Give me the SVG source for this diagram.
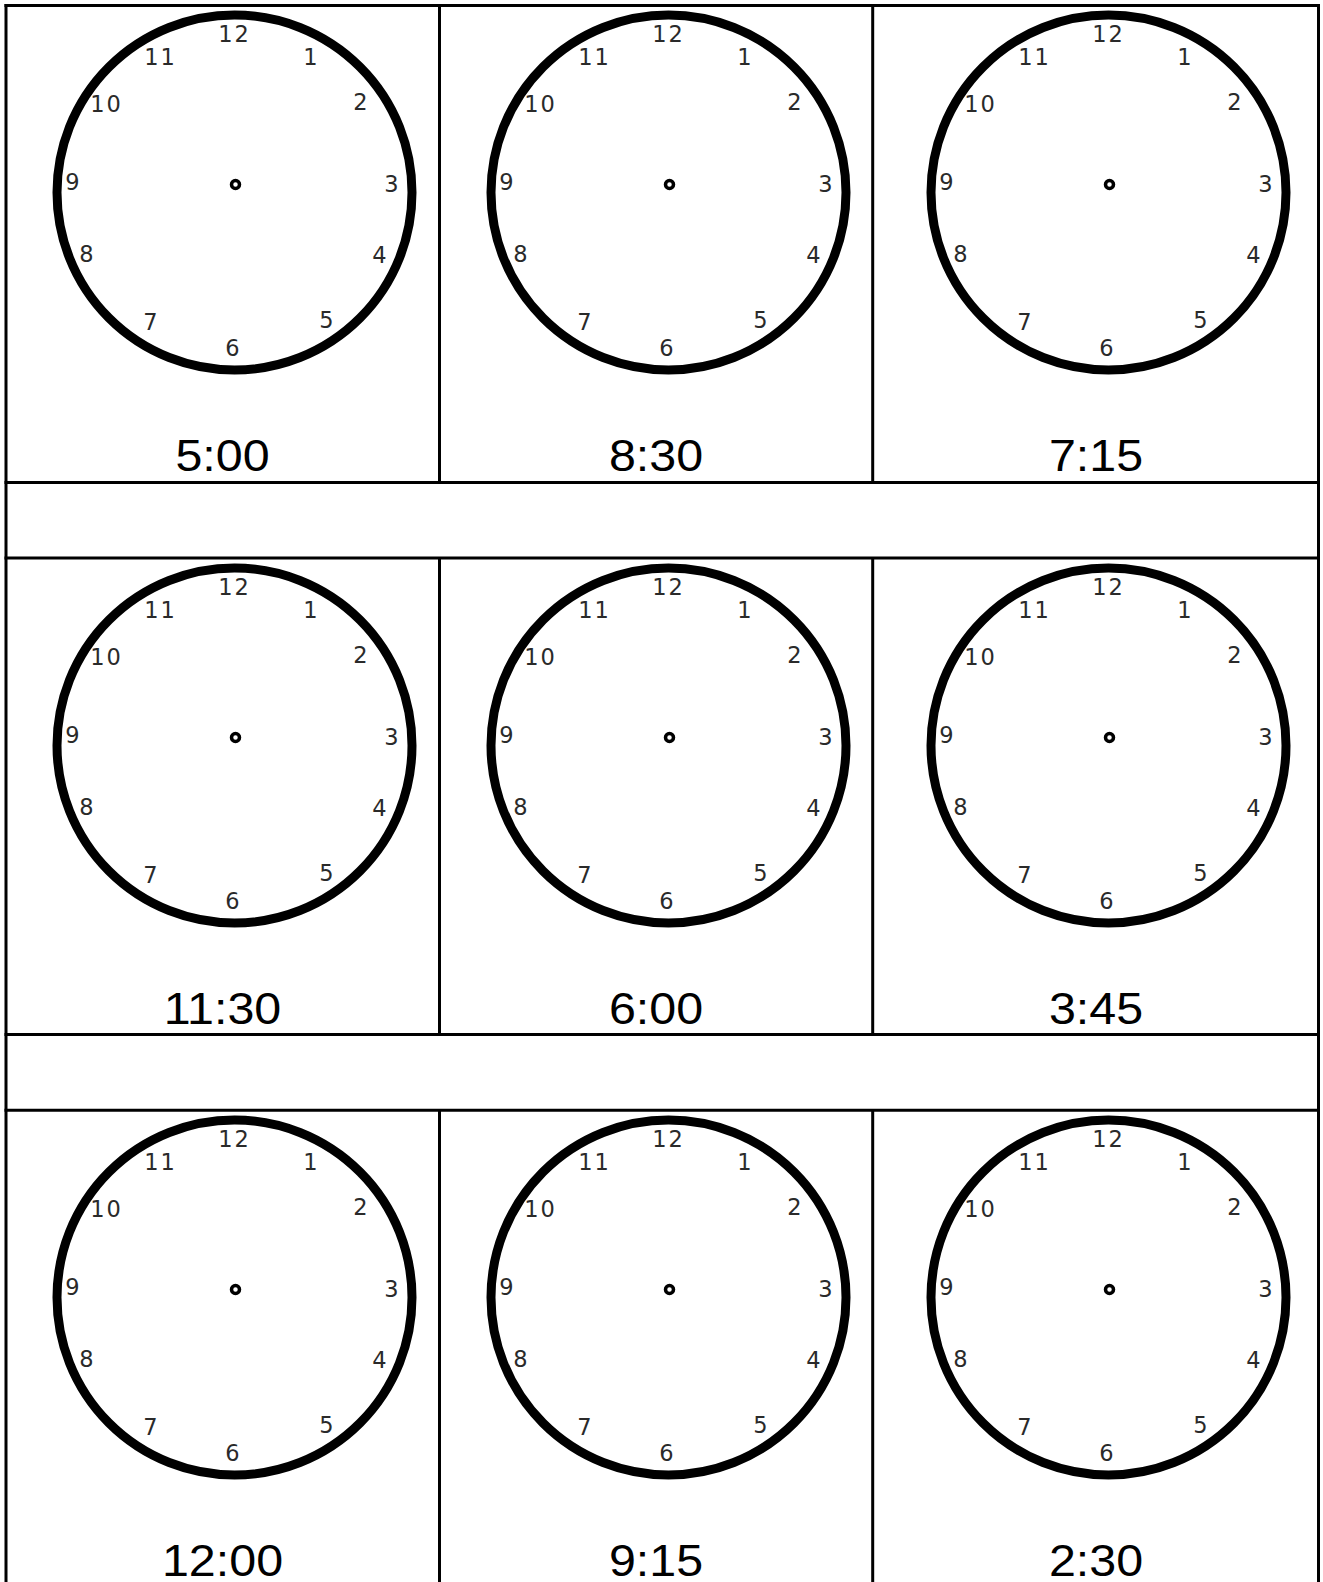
<svg xmlns="http://www.w3.org/2000/svg" width="1323" height="1582" viewBox="0 0 1323 1582">
<style>
.bg{fill:#fff}
.grid line{stroke:#000;stroke-width:3}
.face{fill:none;stroke:#000;stroke-width:9}
.pin{fill:none;stroke:#000;stroke-width:3.5}
.clock text{font-family:"DejaVu Sans",sans-serif;font-size:22.5px;fill:#2a2a2a;text-anchor:middle}
.clock text.w{letter-spacing:2px}
.lbl{font-family:"Liberation Sans",Arial,sans-serif;font-size:44px;fill:#000;text-anchor:middle}
</style>
<rect class="bg" x="0" y="0" width="1323" height="1582"/>
<g id="connectors" class="grid">
<line x1="4.5" y1="5.5" x2="1320" y2="5.5"/>
<line x1="6" y1="4" x2="6" y2="1582"/>
<line x1="1318.5" y1="4" x2="1318.5" y2="1582"/>
<line x1="4.5" y1="482.5" x2="1320" y2="482.5"/>
<line x1="4.5" y1="558" x2="1320" y2="558"/>
<line x1="4.5" y1="1034.5" x2="1320" y2="1034.5"/>
<line x1="4.5" y1="1110.3" x2="1320" y2="1110.3"/>
<line x1="439.5" y1="5.5" x2="439.5" y2="482.5"/>
<line x1="439.5" y1="558" x2="439.5" y2="1034.5"/>
<line x1="439.5" y1="1110.3" x2="439.5" y2="1582"/>
<line x1="872.7" y1="5.5" x2="872.7" y2="482.5"/>
<line x1="872.7" y1="558" x2="872.7" y2="1034.5"/>
<line x1="872.7" y1="1110.3" x2="872.7" y2="1582"/>
</g>
<g id="cell-r1c1">
<g class="clock" transform="translate(235.5 184.5)"><circle class="face" cx="-1" cy="8" r="177.5"/><circle class="pin" r="4"/><text class="w" x="-1" y="-143">12</text><text x="75" y="-120">1</text><text class="w" x="-75" y="-120">11</text><text class="w" x="-129" y="-73">10</text><text x="125" y="-75">2</text><text x="-163" y="5">9</text><text x="156" y="7">3</text><text x="-149" y="77">8</text><text x="144" y="78">4</text><text x="-85" y="145">7</text><text x="91" y="143">5</text><text x="-3" y="171">6</text></g>
<text class="lbl" transform="translate(222.5 470.5) scale(1.1 1)">5:00</text>
</g>
<g id="cell-r1c2">
<g class="clock" transform="translate(669.5 184.5)"><circle class="face" cx="-1" cy="8" r="177.5"/><circle class="pin" r="4"/><text class="w" x="-1" y="-143">12</text><text x="75" y="-120">1</text><text class="w" x="-75" y="-120">11</text><text class="w" x="-129" y="-73">10</text><text x="125" y="-75">2</text><text x="-163" y="5">9</text><text x="156" y="7">3</text><text x="-149" y="77">8</text><text x="144" y="78">4</text><text x="-85" y="145">7</text><text x="91" y="143">5</text><text x="-3" y="171">6</text></g>
<text class="lbl" transform="translate(656 470.5) scale(1.1 1)">8:30</text>
</g>
<g id="cell-r1c3">
<g class="clock" transform="translate(1109.5 184.5)"><circle class="face" cx="-1" cy="8" r="177.5"/><circle class="pin" r="4"/><text class="w" x="-1" y="-143">12</text><text x="75" y="-120">1</text><text class="w" x="-75" y="-120">11</text><text class="w" x="-129" y="-73">10</text><text x="125" y="-75">2</text><text x="-163" y="5">9</text><text x="156" y="7">3</text><text x="-149" y="77">8</text><text x="144" y="78">4</text><text x="-85" y="145">7</text><text x="91" y="143">5</text><text x="-3" y="171">6</text></g>
<text class="lbl" transform="translate(1096 470.5) scale(1.1 1)">7:15</text>
</g>
<g id="cell-r2c1">
<g class="clock" transform="translate(235.5 737.5)"><circle class="face" cx="-1" cy="8" r="177.5"/><circle class="pin" r="4"/><text class="w" x="-1" y="-143">12</text><text x="75" y="-120">1</text><text class="w" x="-75" y="-120">11</text><text class="w" x="-129" y="-73">10</text><text x="125" y="-75">2</text><text x="-163" y="5">9</text><text x="156" y="7">3</text><text x="-149" y="77">8</text><text x="144" y="78">4</text><text x="-85" y="145">7</text><text x="91" y="143">5</text><text x="-3" y="171">6</text></g>
<text class="lbl" transform="translate(222.5 1023.5) scale(1.1 1)">11:30</text>
</g>
<g id="cell-r2c2">
<g class="clock" transform="translate(669.5 737.5)"><circle class="face" cx="-1" cy="8" r="177.5"/><circle class="pin" r="4"/><text class="w" x="-1" y="-143">12</text><text x="75" y="-120">1</text><text class="w" x="-75" y="-120">11</text><text class="w" x="-129" y="-73">10</text><text x="125" y="-75">2</text><text x="-163" y="5">9</text><text x="156" y="7">3</text><text x="-149" y="77">8</text><text x="144" y="78">4</text><text x="-85" y="145">7</text><text x="91" y="143">5</text><text x="-3" y="171">6</text></g>
<text class="lbl" transform="translate(656 1023.5) scale(1.1 1)">6:00</text>
</g>
<g id="cell-r2c3">
<g class="clock" transform="translate(1109.5 737.5)"><circle class="face" cx="-1" cy="8" r="177.5"/><circle class="pin" r="4"/><text class="w" x="-1" y="-143">12</text><text x="75" y="-120">1</text><text class="w" x="-75" y="-120">11</text><text class="w" x="-129" y="-73">10</text><text x="125" y="-75">2</text><text x="-163" y="5">9</text><text x="156" y="7">3</text><text x="-149" y="77">8</text><text x="144" y="78">4</text><text x="-85" y="145">7</text><text x="91" y="143">5</text><text x="-3" y="171">6</text></g>
<text class="lbl" transform="translate(1096 1023.5) scale(1.1 1)">3:45</text>
</g>
<g id="cell-r3c1">
<g class="clock" transform="translate(235.5 1289.5)"><circle class="face" cx="-1" cy="8" r="177.5"/><circle class="pin" r="4"/><text class="w" x="-1" y="-143">12</text><text x="75" y="-120">1</text><text class="w" x="-75" y="-120">11</text><text class="w" x="-129" y="-73">10</text><text x="125" y="-75">2</text><text x="-163" y="5">9</text><text x="156" y="7">3</text><text x="-149" y="77">8</text><text x="144" y="78">4</text><text x="-85" y="145">7</text><text x="91" y="143">5</text><text x="-3" y="171">6</text></g>
<text class="lbl" transform="translate(222.5 1575.5) scale(1.1 1)">12:00</text>
</g>
<g id="cell-r3c2">
<g class="clock" transform="translate(669.5 1289.5)"><circle class="face" cx="-1" cy="8" r="177.5"/><circle class="pin" r="4"/><text class="w" x="-1" y="-143">12</text><text x="75" y="-120">1</text><text class="w" x="-75" y="-120">11</text><text class="w" x="-129" y="-73">10</text><text x="125" y="-75">2</text><text x="-163" y="5">9</text><text x="156" y="7">3</text><text x="-149" y="77">8</text><text x="144" y="78">4</text><text x="-85" y="145">7</text><text x="91" y="143">5</text><text x="-3" y="171">6</text></g>
<text class="lbl" transform="translate(656 1575.5) scale(1.1 1)">9:15</text>
</g>
<g id="cell-r3c3">
<g class="clock" transform="translate(1109.5 1289.5)"><circle class="face" cx="-1" cy="8" r="177.5"/><circle class="pin" r="4"/><text class="w" x="-1" y="-143">12</text><text x="75" y="-120">1</text><text class="w" x="-75" y="-120">11</text><text class="w" x="-129" y="-73">10</text><text x="125" y="-75">2</text><text x="-163" y="5">9</text><text x="156" y="7">3</text><text x="-149" y="77">8</text><text x="144" y="78">4</text><text x="-85" y="145">7</text><text x="91" y="143">5</text><text x="-3" y="171">6</text></g>
<text class="lbl" transform="translate(1096 1575.5) scale(1.1 1)">2:30</text>
</g>
</svg>
